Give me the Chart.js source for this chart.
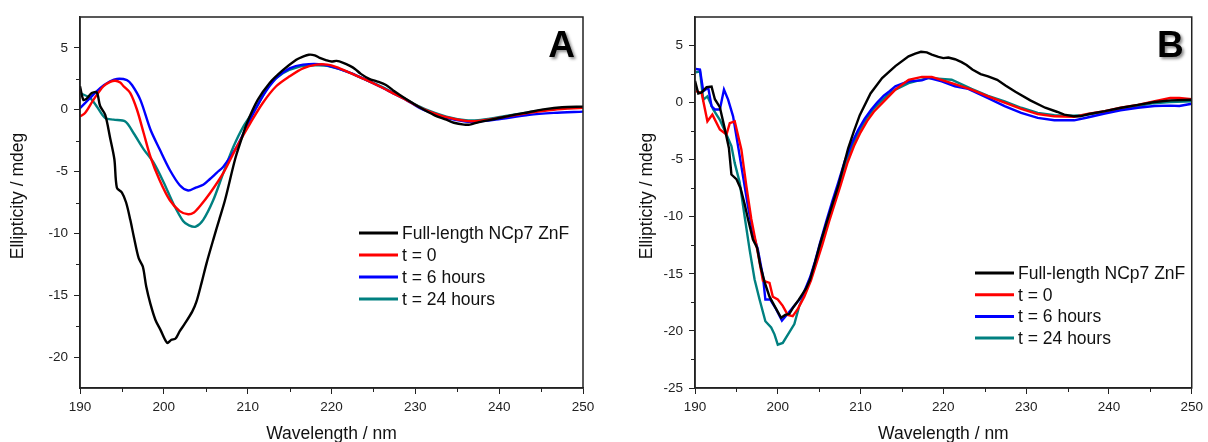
<!DOCTYPE html>
<html>
<head>
<meta charset="utf-8">
<script src="https://cdn.jsdelivr.net/npm/chart.js@4.4.0/dist/chart.umd.min.js"></script>
<style>
  html, body { margin: 0; padding: 0; background: #fff; }
  #wrap { position: relative; width: 1208px; height: 442px; overflow: hidden; }
  .panel { position: absolute; top: 0; width: 604px; height: 442px; }
</style>
</head>
<body>
<div id="wrap">
  <div class="panel" style="left:0"><canvas id="chartA" width="604" height="442"></canvas></div>
  <div class="panel" style="left:604px"><canvas id="chartB" width="604" height="442"></canvas></div>
</div>
<script>
// Series labels / colours (same for both panels)
const seriesLabels = ['Full-length NCp7 ZnF', 't = 0', 't = 6 hours', 't = 24 hours'];
const seriesColors = ['#000000', '#ff0000', '#0000ff', '#008080'];

// Axis ticks
const xTicks = [190, 200, 210, 220, 230, 240, 250];
const xMinor = [195, 205, 215, 225, 235, 245];
const yTicksA = [-20, -15, -10, -5, 0, 5];
const yMinorA = [-17.5, -12.5, -7.5, -2.5, 2.5];
const yTicksB = [-25, -20, -15, -10, -5, 0, 5];
const yMinorB = [-22.5, -17.5, -12.5, -7.5, -2.5, 2.5];

// Full-length NCp7 ZnF reference spectrum [nm, mdeg] (shown in both panels)
const fullLength = [[190.0,1.9],[190.4,0.8],[190.8,0.9],[191.4,1.35],[192.0,1.4],[192.4,0.3],[193.0,-0.4],
  [193.6,-2.3],[194.1,-4.0],[194.4,-6.3],[195.0,-6.7],[195.5,-7.5],[196.0,-8.9],[196.4,-10.2],[197.0,-12.0],
  [197.5,-12.7],[197.9,-14.3],[198.4,-15.7],[199.0,-17.0],[199.6,-17.8],[200.4,-18.85],[200.9,-18.6],
  [201.4,-18.5],[201.9,-17.9],[202.5,-17.3],[203.4,-16.3],[203.9,-15.5],[204.5,-14.0],[205.1,-12.4],
  [205.9,-10.5],[206.6,-8.9],[207.3,-7.3],[208.5,-4.0],[209.2,-2.5],[209.9,-1.1],[211.2,0.8],[212.6,2.15],
  [214.2,3.2],[215.8,4.05],[216.6,4.3],[217.3,4.45],[218.0,4.4],[218.6,4.2],[219.4,4.0],[220.0,3.9],
  [220.6,3.95],[221.4,3.8],[222.2,3.55],[222.8,3.3],[223.5,2.9],[224.5,2.5],[225.4,2.3],[226.5,2.0],
  [227.5,1.5],[228.7,0.95],[230.5,0.2],[232.3,-0.45],[233.7,-0.8],[234.6,-1.05],[235.8,-1.2],[236.5,-1.2],
  [237.6,-1.0],[239.5,-0.75],[241.5,-0.45],[243.5,-0.2],[245.5,0.05],[247.5,0.2],[250.0,0.25]];

// Panel A (smooth spectra)
const aT0 = [[190.0,-0.55],[190.6,-0.27],[191.6,0.8],[192.8,1.9],[193.6,2.25],[194.2,2.35],[194.8,2.2],
  [195.2,1.9],[196.0,1.35],[196.8,0.0],[197.6,-1.9],[198.4,-3.8],[199.5,-5.7],[200.7,-7.3],[201.9,-8.2],
  [202.9,-8.45],[203.6,-8.3],[204.3,-7.8],[205.5,-6.75],[207.1,-5.1],[208.7,-3.0],[210.3,-1.1],[211.8,0.55],
  [213.4,1.9],[215.0,2.7],[216.6,3.35],[218.2,3.65],[219.5,3.65],[220.6,3.45],[222.0,3.05],[224.0,2.45],
  [225.7,1.9],[227.3,1.35],[228.9,0.8],[230.5,0.2],[231.7,-0.15],[233.7,-0.6],[236.0,-0.9],[237.5,-0.9],
  [239.6,-0.7],[243.6,-0.25],[246.5,0.0],[250.0,0.15]];
const aT6 = [[190.0,0.13],[191.2,0.95],[192.4,1.75],[193.6,2.3],[194.4,2.5],[195.6,2.4],[196.2,2.0],
  [197.2,0.8],[198.4,-1.6],[199.5,-3.2],[200.7,-4.85],[201.9,-6.1],[202.9,-6.53],[203.8,-6.3],[204.7,-6.07],
  [205.5,-5.6],[206.3,-5.1],[207.1,-4.6],[208.7,-3.0],[210.3,-0.8],[211.8,1.1],[213.4,2.55],[215.0,3.35],
  [216.6,3.65],[219.0,3.65],[222.0,3.05],[224.0,2.45],[225.7,1.9],[227.3,1.35],[228.9,0.8],[230.5,0.15],
  [231.7,-0.2],[233.7,-0.65],[236.0,-0.95],[237.5,-0.95],[239.6,-0.8],[243.6,-0.4],[246.5,-0.25],[250.0,-0.15]];
const aT24 = [[190.0,1.35],[191.2,0.95],[192.0,0.27],[193.0,-0.67],[194.0,-0.8],[195.4,-0.95],[196.4,-1.9],
  [197.6,-3.2],[198.8,-4.3],[200.0,-5.9],[201.1,-7.55],[202.3,-9.0],[203.0,-9.35],[203.8,-9.45],[204.7,-8.9],
  [205.9,-7.3],[207.1,-5.1],[208.3,-3.0],[209.5,-1.35],[211.1,0.27],[212.6,2.0],[214.2,2.95],[216.2,3.5],
  [218.2,3.6],[219.5,3.55],[222.0,3.05],[224.0,2.45],[225.7,1.95],[227.3,1.4],[228.9,0.85],[230.5,0.25],
  [231.7,-0.1],[233.7,-0.55],[236.0,-0.85],[237.5,-0.85],[239.6,-0.65],[243.6,-0.2],[246.5,0.05],[250.0,0.2]];

// Panel B (noisier spectra)
const bT0 = [[190.1,1.0],[190.8,0.85],[191.5,-1.64],[192.1,-1.05],[193.0,-2.36],[193.8,-2.8],[194.2,-1.8],
  [194.8,-1.64],[195.6,-4.1],[196.2,-7.3],[196.8,-10.2],[197.6,-13.2],[198.2,-15.6],[199.0,-15.8],[199.4,-17.0],
  [200.0,-17.25],[200.6,-17.8],[201.2,-18.6],[201.8,-18.7],[202.4,-18.1],[203.2,-17.0],[204.0,-15.6],
  [204.7,-14.0],[205.4,-12.4],[206.2,-10.4],[206.9,-8.8],[207.6,-7.2],[208.4,-5.3],[209.2,-3.8],[210.0,-2.6],
  [210.8,-1.6],[211.6,-0.8],[212.4,-0.2],[213.2,0.4],[214.2,1.14],[215.8,2.0],[217.4,2.25],
  [218.6,2.25],[221.0,1.7],[223.4,1.14],[225.4,0.55],[227.4,0.0],[229.4,-0.55],[231.4,-1.0],[233.4,-1.2],
  [235.8,-1.25],[237.4,-1.0],[239.5,-0.75],[241.4,-0.45],[243.5,-0.2],[245.4,0.11],[247.4,0.4],[248.5,0.4],[250.0,0.3]];
const bT6 = [[190.1,2.95],[190.6,2.9],[191.0,1.0],[191.6,1.3],[192.0,-0.32],[192.4,-0.6],[193.0,-0.6],
  [193.5,1.14],[194.0,0.26],[194.6,-1.2],[195.2,-3.8],[195.8,-6.45],[196.4,-9.1],[197.0,-11.4],[197.6,-12.9],
  [198.2,-15.2],[198.5,-17.25],[199.1,-17.25],[199.8,-18.1],[200.5,-19.1],[201.3,-18.4],[203.0,-16.9],
  [203.9,-15.3],[204.5,-13.9],[205.1,-12.3],[205.9,-10.3],[206.6,-8.6],[207.3,-7.0],[208.1,-5.1],[208.9,-3.6],
  [209.7,-2.4],[210.5,-1.4],[211.3,-0.6],[212.0,0.0],[212.8,0.6],[213.5,1.0],[214.2,1.43],[215.8,1.87],
  [217.4,1.95],[218.2,2.16],[219.8,1.87],[221.4,1.43],[223.0,1.2],[225.4,0.4],[227.4,-0.3],[229.4,-0.9],
  [231.4,-1.34],[233.4,-1.55],[235.8,-1.55],[237.4,-1.3],[239.5,-0.95],[241.4,-0.67],[243.5,-0.45],
  [245.5,-0.3],[247.4,-0.26],[248.5,-0.3],[250.0,-0.1]];
const bT24 = [[190.1,2.65],[190.6,2.75],[191.0,0.26],[191.5,0.55],[192.2,-0.6],[193.0,-1.5],[193.8,-2.8],
  [194.4,-3.8],[194.8,-5.3],[195.4,-7.0],[196.0,-10.0],[196.6,-12.9],[197.2,-15.5],[197.8,-17.25],[198.5,-19.15],
  [199.2,-19.7],[199.6,-20.3],[200.0,-21.2],[200.6,-21.05],[202.0,-19.4],[202.6,-17.8],[203.4,-16.5],
  [204.1,-15.0],[204.7,-13.6],[205.4,-12.0],[206.1,-10.2],[206.8,-8.6],[207.5,-7.0],[208.3,-5.1],[209.1,-3.6],
  [209.9,-2.4],[210.7,-1.4],[211.5,-0.6],[212.3,0.0],[213.2,0.6],[214.2,1.14],[215.8,1.7],
  [218.2,2.16],[221.0,2.0],[223.4,1.2],[225.4,0.6],[227.4,0.1],[229.4,-0.45],[231.4,-0.9],[233.4,-1.1],
  [235.8,-1.15],[237.4,-1.05],[239.5,-0.8],[241.4,-0.55],[243.5,-0.3],[245.4,-0.05],[247.4,0.05],[250.0,0.11]];

const FONT = '"Liberation Sans", Arial, sans-serif';

// frame, minor ticks, axis titles, in-plot legend and panel letter
const decorPlugin = {
  id: 'decor',
  afterDraw(chart, args, o) {
    const { ctx, chartArea: a, scales: { x, y } } = chart;
    ctx.save();
    ctx.strokeStyle = '#222';
    ctx.lineWidth = 1.5;
    ctx.strokeRect(a.left, a.top, a.right - a.left, a.bottom - a.top);

    ctx.lineWidth = 1;
    ctx.beginPath();
    o.xMinor.forEach(v => { const px = Math.round(x.getPixelForValue(v)) + 0.5; ctx.moveTo(px, a.bottom); ctx.lineTo(px, a.bottom + 4); });
    o.yMinor.forEach(v => { const py = Math.round(y.getPixelForValue(v)) + 0.5; ctx.moveTo(a.left, py); ctx.lineTo(a.left - 4, py); });
    ctx.stroke();

    // axis titles
    ctx.fillStyle = '#111';
    ctx.font = '17.5px ' + FONT;
    ctx.textAlign = 'center';
    ctx.textBaseline = 'middle';
    ctx.fillText('Wavelength / nm', (a.left + a.right) / 2, 434);
    ctx.save();
    ctx.translate(o.yTitleX, 196);
    ctx.rotate(-Math.PI / 2);
    ctx.fillText('Ellipticity / mdeg', 0, 0);
    ctx.restore();

    // legend
    ctx.textAlign = 'left';
    chart.data.datasets.forEach((ds, i) => {
      const ly = o.legendY + i * o.legendGap;
      ctx.strokeStyle = ds.borderColor;
      ctx.lineWidth = 3;
      ctx.beginPath();
      ctx.moveTo(o.legendX, ly);
      ctx.lineTo(o.legendX + 39, ly);
      ctx.stroke();
      ctx.fillStyle = '#111';
      ctx.fillText(ds.label, o.legendX + 43, ly + 1);
    });

    // panel letter
    ctx.font = 'bold 37px ' + FONT;
    ctx.textAlign = 'right';
    ctx.textBaseline = 'alphabetic';
    ctx.shadowColor = 'rgba(0,0,0,0.45)';
    ctx.shadowBlur = 3;
    ctx.shadowOffsetX = 2;
    ctx.shadowOffsetY = 2;
    ctx.fillStyle = '#000';
    ctx.fillText(o.letter, a.right - 8, 57);
    ctx.restore();
  }
};

function makePanel(id, series, p) {
  const datasets = series.map((d, i) => ({
    label: seriesLabels[i],
    data: d,
    borderColor: seriesColors[i],
    borderWidth: 2.4,
    pointRadius: 0,
    tension: p.tension,
    fill: false
  }));
  return new Chart(document.getElementById(id), {
    type: 'line',
    data: { datasets: datasets },
    options: {
      responsive: false,
      animation: false,
      layout: { padding: { left: 0, right: p.padRight, top: 17, bottom: 0 } },
      plugins: {
        legend: { display: false },
        tooltip: { enabled: false },
        decor: p.decor
      },
      scales: {
        x: {
          type: 'linear', min: 190, max: 250,
          afterBuildTicks: s => { s.ticks = xTicks.map(v => ({ value: v })); },
          afterFit: s => { s.height = 54; },
          ticks: { color: '#222', font: { family: FONT, size: 13.5 }, padding: 5, maxRotation: 0 },
          grid: { drawOnChartArea: false, tickLength: 6, color: '#222', lineWidth: 1 },
          border: { color: '#222', width: 1.5 }
        },
        y: {
          type: 'linear', min: p.yMin, max: 7.5,
          afterBuildTicks: s => { s.ticks = p.yTicks.map(v => ({ value: v })); },
          afterFit: s => { s.width = p.axisLeft; },
          ticks: { color: '#222', font: { family: FONT, size: 13.5 }, padding: 6 },
          grid: { drawOnChartArea: false, tickLength: 6, color: '#222', lineWidth: 1 },
          border: { color: '#222', width: 1.5 }
        }
      }
    },
    plugins: [decorPlugin]
  });
}

makePanel('chartA', [fullLength, aT0, aT6, aT24], {
  tension: 0.3, padRight: 21, axisLeft: 80, yMin: -22.5, yTicks: yTicksA,
  decor: { xMinor: xMinor, yMinor: yMinorA, yTitleX: 18, legendX: 359, legendY: 233, legendGap: 22, letter: 'A' }
});
makePanel('chartB', [fullLength, bT0, bT6, bT24], {
  tension: 0, padRight: 13, axisLeft: 91, yMin: -25, yTicks: yTicksB,
  decor: { xMinor: xMinor, yMinor: yMinorB, yTitleX: 43, legendX: 371, legendY: 273, legendGap: 21.7, letter: 'B' }
});
</script>
</body>
</html>
